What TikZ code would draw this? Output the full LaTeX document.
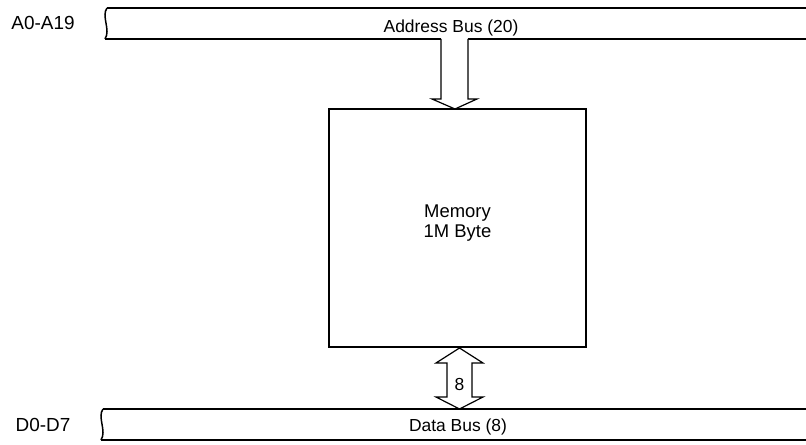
\documentclass[tikz,border=0pt]{standalone}
\usepackage{fontspec}
\setmainfont{Liberation Sans}
\usetikzlibrary{positioning, calc}

\begin{document}
\begin{tikzpicture}[x=1bp, y=-1bp,
          lbl/.style={font=\fontsize{17.5}{19}\selectfont, inner sep=0pt, align=center},
          mem/.style={draw, line width=2.8bp, minimum width=257bp, minimum height=238bp},
          bus/.style={line width=1.5bp},
          hol/.style={draw, line width=1.2bp, line join=miter, fill=white}]
        \useasboundingbox (0,0) rectangle (806,445);
        % memory block
        \node[mem] (mem) at (457.5,228) {};
        \node[lbl, font=\fontsize{18.5}{20}\selectfont] (mtxt) at ($(mem.center)+(0,-5)$) {Memory\\1M Byte};
        % address bus
        \coordinate (atl) at (107,8);
        \coordinate (abl) at (105,39);
        \draw[bus] (atl) -- (806,8);
        \draw[bus] (atl) .. controls (101,16) and (111,30) .. (abl);
        \draw[bus] (abl) -- (441,39);
        \draw[bus] (468,39) -- (806,39);
        \node[lbl, font=\fontsize{19}{20}\selectfont] (alab) at (43,23) {A0-A19};
        \node[lbl] (abt) at (451,28) {Address Bus (20)};
        \coordinate (abus) at (454.5,39);
        \begin{scope}[shift={(abus)}]
          \draw[hol] (-13.5,0) -- (-13.5,60) -- (-22.5,60) -- (0.5,70) -- (22.5,60) -- (13.5,60) -- (13.5,0);
        \end{scope}
        % data bus
        \coordinate (dtl) at (103,409);
        \coordinate (dbl) at (101,440);
        \draw[bus] (dtl) -- (806,409);
        \draw[bus] (dtl) .. controls (97,417) and (107,431) .. (dbl);
        \draw[bus] (dbl) -- (806,440);
        \node[lbl, font=\fontsize{19}{20}\selectfont] (dlab) at (43,425) {D0-D7};
        \node[lbl] (dbt) at (458,427) {Data Bus (8)};
        \coordinate (dbus) at (459.5,409);
        \begin{scope}[shift={(dbus)}]
          \draw[hol] (0,0) -- (-23.5,-12) -- (-12.5,-12) -- (-12.5,-46) -- (-23.5,-46) -- (0,-61)
            -- (23.5,-46) -- (12.5,-46) -- (12.5,-12) -- (23.5,-12) -- cycle;
        \end{scope}
        \node[lbl] (dw) at ($(dbus)+(0,-25)$) {8};
      \end{tikzpicture}
\end{document}
